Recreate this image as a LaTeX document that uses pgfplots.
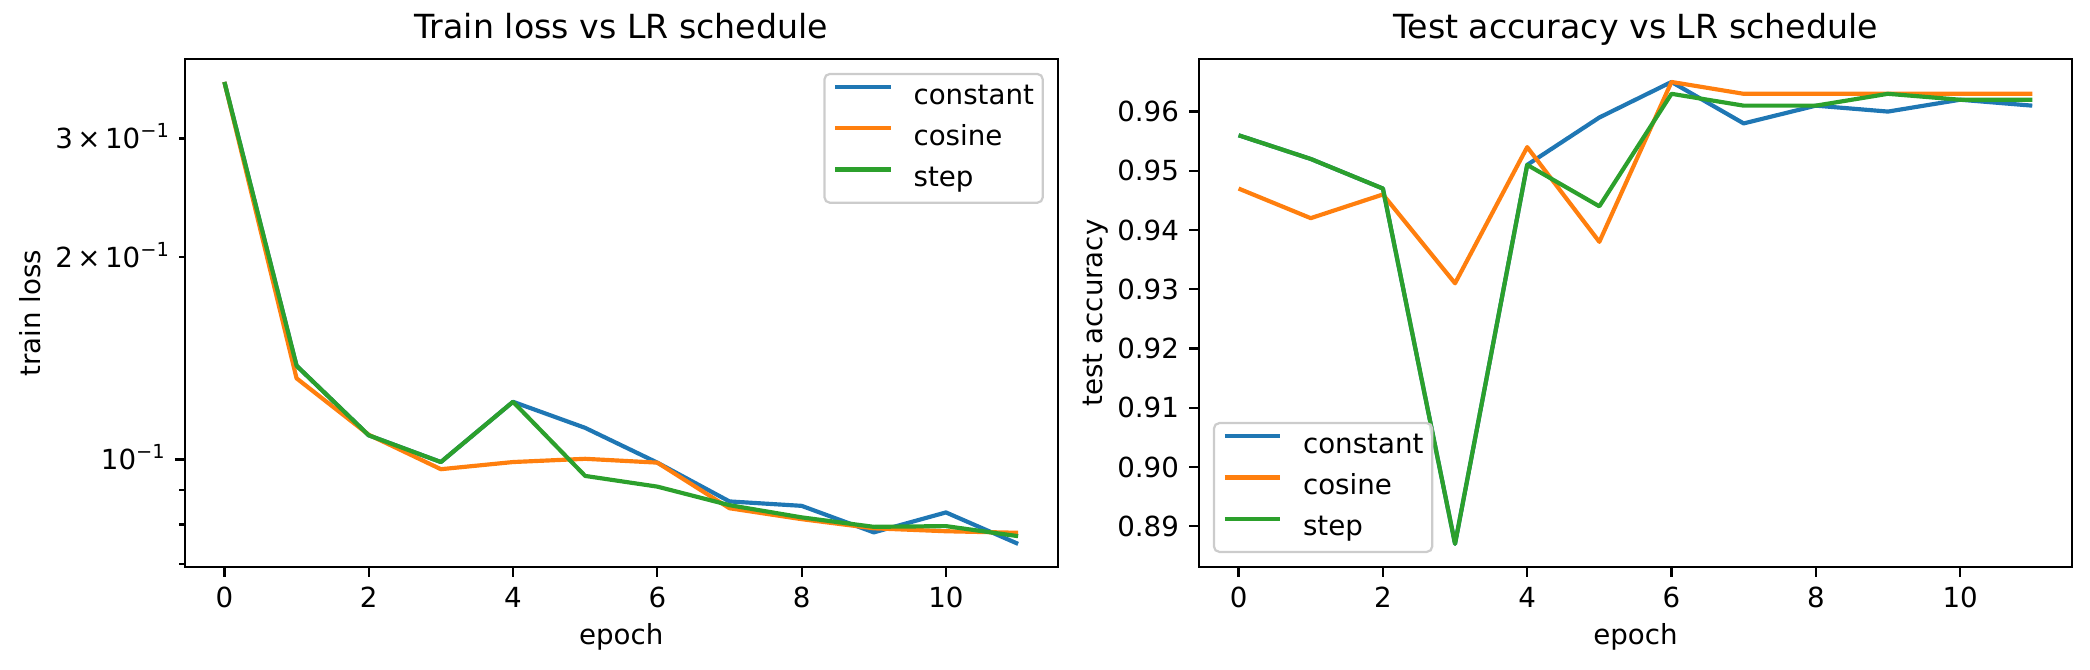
\documentclass[border=0pt]{standalone}
\usepackage{fontspec}
\setmainfont{DejaVu Sans}
\usepackage{pgfplots}
\pgfplotsset{compat=1.18}
\definecolor{tabblue}{HTML}{1F77B4}
\definecolor{taborange}{HTML}{FF7F0E}
\definecolor{tabgreen}{HTML}{2CA02C}
\definecolor{leggray}{HTML}{CCCCCC}
\newcommand{\sups}[1]{\raisebox{0.4em}{\fontsize{7}{7}\selectfont #1}}
\newcommand{\sci}[1]{#1\kern1.6bp×\kern1.6bp10\sups{−1}}
\pgfplotsset{
  mplstyle/.style={
    scale only axis,
    width=314.3bp, height=182.9bp,
    axis line style={line width=0.8bp, black},
    every tick/.style={line width=0.8bp, black},
    major tick length=3.5bp, minor tick length=2bp,
    tick align=outside, tick pos=left,
    /pgf/number format/assume math mode=true,
    tick label style={font=\fontsize{10}{12}\selectfont},
    xticklabel style={anchor=north, inner sep=0pt, yshift=-3.5bp},
    yticklabel style={anchor=base east, inner sep=0pt, xshift=-3.5bp, yshift=-3.65bp},
    label style={font=\fontsize{10}{12}\selectfont},
    title style={font=\fontsize{12}{14.4}\selectfont, at={(axis description cs:0.5,1)}, anchor=base, yshift=1.2bp},
    xmin=-0.55, xmax=11.55,
    xtick={0,2,4,6,8,10},
    xlabel={epoch},
    xlabel style={at={(axis description cs:0.5,-0.1372)}, anchor=center},
    legend cell align=left,
    legend image code/.code={\draw[##1, line width=1.5bp] (0bp,3.6bp) -- (20bp,3.6bp);},
    legend style={draw=leggray, line width=0.8bp, rounded corners=2bp, fill=white, fill opacity=0.8, text opacity=1,
      font=\fontsize{10}{12}\selectfont, inner xsep=3.2bp, inner ysep=3.4bp, row sep=4.8bp, column sep=7.4bp,
      nodes={inner sep=0pt, text height=7.5bp, text depth=2.5bp}},
    every axis plot/.append style={line width=1.5bp, line join=round},
  }
}
\begin{document}
\begin{tikzpicture}
\useasboundingbox (0,0) rectangle (752.4bp,241.2bp);
\begin{axis}[mplstyle,
  at={(66.5bp,37.1bp)}, anchor=south west,
  title={Train loss vs LR schedule},
  ymode=log, ymin=0.0692, ymax=0.394,
  ytick={0.1}, yticklabels={10\sups{−1}},
  extra y ticks={0.2,0.3}, extra y tick labels={\sci{2},\sci{3}},
  extra y tick style={major tick length=2bp},
  minor ytick={0.07,0.08,0.09},
  ylabel={train loss},
  ylabel style={at={(axis description cs:-0.1766,0.5)}, anchor=center},
  legend style={at={(axis description cs:1,1)}, anchor=north east, xshift=-5bp, yshift=-5bp},
]
\addplot[tabblue] coordinates {(0,0.364) (1,0.1378) (2,0.1086) (3,0.0991) (4,0.1218) (5,0.1114) (6,0.0989) (7,0.0866) (8,0.0853) (9,0.0779) (10,0.0834) (11,0.0749)};
\addlegendentry{constant}
\addplot[taborange] coordinates {(0,0.364) (1,0.132) (2,0.1088) (3,0.0967) (4,0.0991) (5,0.1002) (6,0.0989) (7,0.0846) (8,0.0815) (9,0.0790) (10,0.0782) (11,0.0778)};
\addlegendentry{cosine}
\addplot[tabgreen] coordinates {(0,0.364) (1,0.1378) (2,0.1086) (3,0.0991) (4,0.1218) (5,0.0945) (6,0.0911) (7,0.0855) (8,0.0820) (9,0.0794) (10,0.0796) (11,0.0769)};
\addlegendentry{step}
\end{axis}
\begin{axis}[mplstyle,
  at={(431.6bp,37.1bp)}, anchor=south west,
  title={Test accuracy vs LR schedule},
  ymin=0.8831, ymax=0.9689,
  ytick={0.89,0.90,0.91,0.92,0.93,0.94,0.95,0.96},
  yticklabel style={/pgf/number format/.cd, fixed, fixed zerofill, precision=2},
  scaled y ticks=false,
  ylabel={test accuracy},
  ylabel style={at={(axis description cs:-0.1177,0.5)}, anchor=center},
  legend style={at={(axis description cs:0,0)}, anchor=south west, xshift=5bp, yshift=5bp},
]
\addplot[tabblue] coordinates {(0,0.956) (1,0.952) (2,0.947) (3,0.887) (4,0.951) (5,0.959) (6,0.965) (7,0.958) (8,0.961) (9,0.960) (10,0.962) (11,0.961)};
\addlegendentry{constant}
\addplot[taborange] coordinates {(0,0.947) (1,0.942) (2,0.946) (3,0.931) (4,0.954) (5,0.938) (6,0.965) (7,0.963) (8,0.963) (9,0.963) (10,0.963) (11,0.963)};
\addlegendentry{cosine}
\addplot[tabgreen] coordinates {(0,0.956) (1,0.952) (2,0.947) (3,0.887) (4,0.951) (5,0.944) (6,0.963) (7,0.961) (8,0.961) (9,0.963) (10,0.962) (11,0.962)};
\addlegendentry{step}
\end{axis}
\end{tikzpicture}
\end{document}
